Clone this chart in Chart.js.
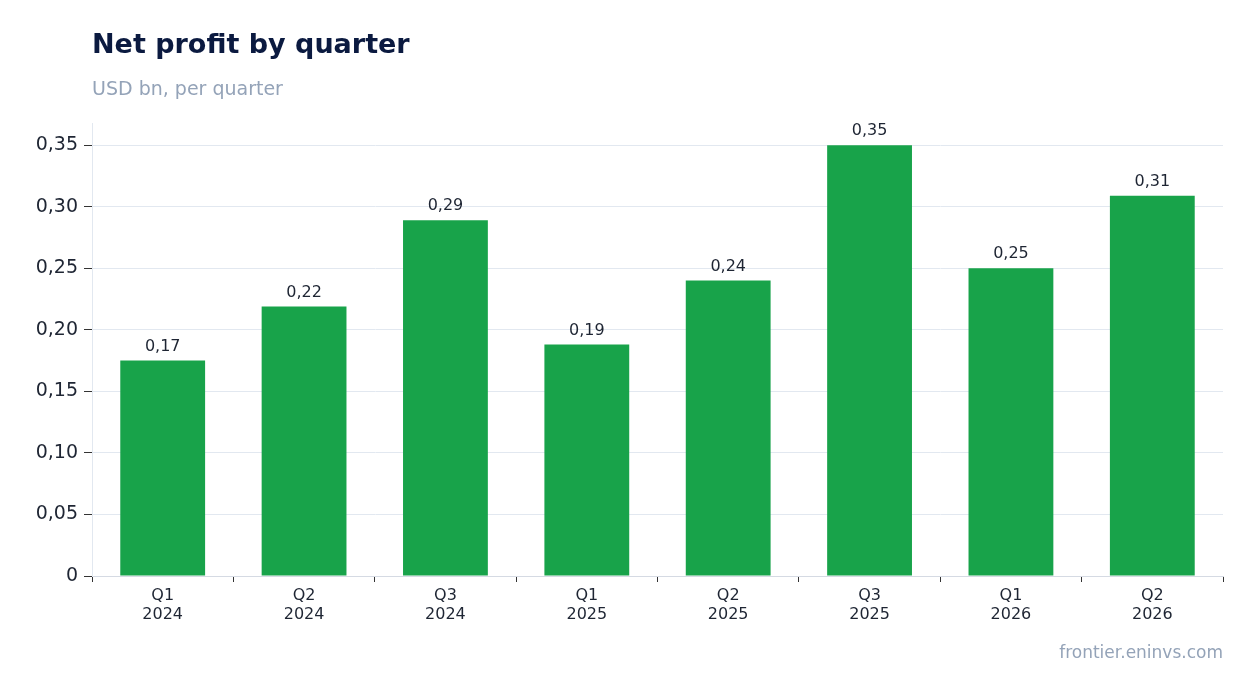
<!DOCTYPE html>
<html><head><meta charset="utf-8">
<script src="https://cdn.jsdelivr.net/npm/chart.js@4"></script>
<style>
html,body{margin:0;padding:0;background:#fff;font-family:"DejaVu Sans",sans-serif;}
#wrap{position:relative;width:1254px;height:693px;}
#t{position:absolute;left:92px;top:28px;font-size:27px;font-weight:bold;color:#0b1a40;}
#s{position:absolute;left:92px;top:77px;font-size:19px;color:#94a3b8;}
#src{position:absolute;right:31px;top:642px;font-size:17px;color:#94a3b8;}
canvas{position:absolute;left:0;top:0;}
</style></head><body>
<div id="wrap"><canvas id="c" width="1254" height="693"></canvas>
<div id="t">Net profit by quarter</div>
<div id="s">USD bn, per quarter</div>
<div id="src">frontier.eninvs.com</div></div>
<script>
const categories=[["Q1","2024"],["Q2","2024"],["Q3","2024"],["Q1","2025"],["Q2","2025"],["Q3","2025"],["Q1","2026"],["Q2","2026"]];
const profit=[0.175,0.219,0.289,0.188,0.240,0.350,0.250,0.309];
const yTicks=[0,0.05,0.10,0.15,0.20,0.25,0.30,0.35];
const fmt=v=>v===0?"0":v.toFixed(2).replace(".",",");
const labelPlugin={id:"lbl",afterDatasetsDraw(ch){const ctx=ch.ctx;const m=ch.getDatasetMeta(0);ctx.save();ctx.font='16px "DejaVu Sans"';ctx.fillStyle="#1e2533";ctx.textAlign="center";ctx.textBaseline="bottom";m.data.forEach((b,i)=>ctx.fillText(fmt(profit[i]),b.x,b.y-6));ctx.restore();}};
new Chart(document.getElementById("c"),{type:"bar",
data:{labels:categories,datasets:[{data:profit,backgroundColor:"#18a34a",barPercentage:0.6,categoryPercentage:1}]},
options:{responsive:false,animation:false,layout:{padding:{left:0,right:31,top:123,bottom:57}},
plugins:{legend:{display:false},tooltip:{enabled:false}},
scales:{
x:{grid:{drawOnChartArea:false,tickLength:6,color:"#333"},border:{color:"#d5dae3"},ticks:{color:"#1e2533",font:{size:16,family:"DejaVu Sans"},padding:4},afterFit(s){s.height=60;}},
y:{min:0,max:0.368,afterBuildTicks(s){s.ticks=yTicks.map(v=>({value:v}));},grid:{color:"#e2e8f0",tickLength:8,tickColor:"#333"},border:{color:"#e2e8f0"},ticks:{color:"#1e2533",font:{size:19,family:"DejaVu Sans"},padding:6,callback:v=>fmt(v)},afterFit(s){s.width=92;}}
}},plugins:[labelPlugin]});
</script></body></html>
